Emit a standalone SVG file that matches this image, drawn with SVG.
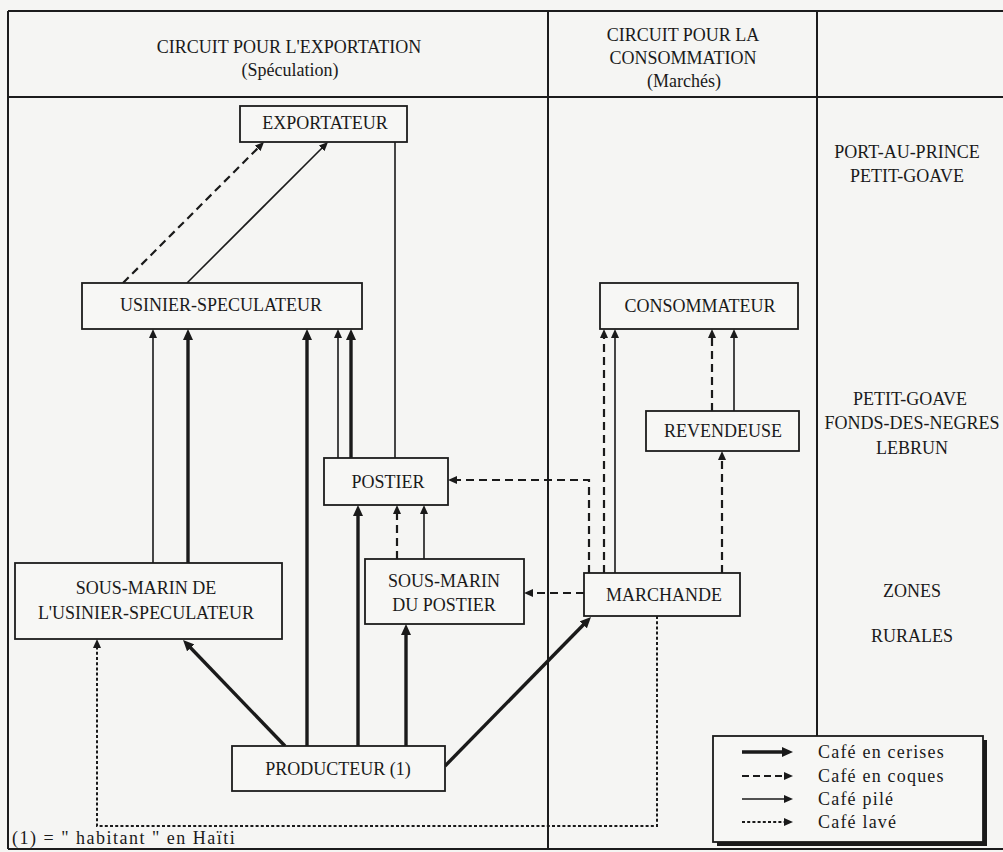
<svg xmlns="http://www.w3.org/2000/svg" width="1003" height="852" viewBox="0 0 1003 852">
  <style>
    .frame { fill: none; stroke: #1c1c1c; stroke-width: 2; }
    .box { fill: #f7f7f5; stroke: #1c1c1c; stroke-width: 1.8; }
    .lbl { font-family: "Liberation Serif", "Times New Roman", serif; font-size: 18px; fill: #1a1a1a; text-anchor: middle; }
    .hdr { font-family: "Liberation Serif", "Times New Roman", serif; font-size: 18px; fill: #1a1a1a; text-anchor: middle; }
    .place { font-family: "Liberation Serif", "Times New Roman", serif; font-size: 18px; fill: #1a1a1a; text-anchor: middle; }
    .leg { font-family: "Liberation Serif", "Times New Roman", serif; font-size: 18px; fill: #1a1a1a; letter-spacing: 1.2px; }
    .note { font-family: "Liberation Serif", "Times New Roman", serif; font-size: 18px; fill: #1a1a1a; letter-spacing: 1.5px; }
    .cerises { fill: none; stroke: #1a1a1a; stroke-width: 3.4; marker-end: url(#headThick); }
    .pile { fill: none; stroke: #1a1a1a; stroke-width: 1.6; marker-end: url(#headThin); }
    .coques { fill: none; stroke: #1a1a1a; stroke-width: 2.2; stroke-dasharray: 8 5; marker-end: url(#headThin); }
    .lave { fill: none; stroke: #1a1a1a; stroke-width: 2; stroke-dasharray: 3 2.2; marker-end: url(#headThin); }
  </style>
  <defs>
    <marker id="headThick" markerUnits="userSpaceOnUse" markerWidth="12" markerHeight="10" refX="4" refY="5" orient="auto">
      <path d="M0,0 L11,5 L0,10 z" fill="#1a1a1a"/>
    </marker>
    <marker id="headThin" markerUnits="userSpaceOnUse" markerWidth="10" markerHeight="8" refX="3" refY="4" orient="auto">
      <path d="M0,0 L9,4 L0,8 z" fill="#1a1a1a"/>
    </marker>
  </defs>

  <rect x="0" y="0" width="1003" height="852" fill="#f5f5f3"/>

  <!-- table frame and column rules -->
  <g id="frame">
    <path class="frame" d="M8,11 H1003 M8,11 V849 M8,849 H1003 M8,97 H1003 M548,11 V849 M817,11 V736"/>
  </g>

  <!-- column headings -->
  <g id="headings">
    <text class="hdr" x="289" y="53">CIRCUIT POUR L'EXPORTATION</text>
    <text class="hdr" x="290" y="76">(Spéculation)</text>
    <text class="hdr" x="683" y="41">CIRCUIT POUR LA</text>
    <text class="hdr" x="683" y="64">CONSOMMATION</text>
    <text class="hdr" x="684" y="87">(Marchés)</text>
  </g>

  <!-- place names -->
  <g id="places">
    <text class="place" x="907" y="158">PORT-AU-PRINCE</text>
    <text class="place" x="907" y="182">PETIT-GOAVE</text>
    <text class="place" x="910" y="405">PETIT-GOAVE</text>
    <text class="place" x="912" y="429">FONDS-DES-NEGRES</text>
    <text class="place" x="912" y="454">LEBRUN</text>
    <text class="place" x="912" y="597">ZONES</text>
    <text class="place" x="912" y="642">RURALES</text>
  </g>

  <!-- connectors -->
  <g id="connectors">
    <!-- café en cerises -->
    <path class="cerises" d="M188,563 V336"/>
    <path class="cerises" d="M307,746 V336"/>
    <path class="cerises" d="M351,458 V336"/>
    <path class="cerises" d="M358,746 V512"/>
    <path class="cerises" d="M406,746 V631"/>
    <path class="cerises" d="M285,746 L187.9,645"/>
    <path class="cerises" d="M445,766 L586.1,622"/>
    <!-- café pilé -->
    <path class="pile" d="M153,563 V335"/>
    <path class="pile" d="M338,458 V335"/>
    <path class="pile" d="M424,559 V511"/>
    <path class="pile" d="M187,283 L323.8,146.2"/>
    <path class="pile" d="M395,458 V142" style="marker-end:none"/>
    <path class="pile" d="M615,573 V335"/>
    <path class="pile" d="M734,411 V335"/>
    <!-- café en coques -->
    <path class="coques" d="M123,283 L259.8,146.2"/>
    <path class="coques" d="M397,559 V511"/>
    <path class="coques" d="M589,573 V480 H454"/>
    <path class="coques" d="M584,593 H530"/>
    <path class="coques" d="M604,573 V335"/>
    <path class="coques" d="M722,573 V457"/>
    <path class="coques" d="M712,411 V335"/>
    <!-- café lavé -->
    <path class="lave" d="M657,616 V826 H97 V645"/>
  </g>

  <!-- nodes -->
  <g id="exportateur">
    <rect class="box" x="240" y="106" width="167" height="36"/>
    <text class="lbl" x="325" y="129">EXPORTATEUR</text>
  </g>
  <g id="usinier-speculateur">
    <rect class="box" x="82" y="283" width="280" height="46"/>
    <text class="lbl" x="221" y="311">USINIER-SPECULATEUR</text>
  </g>
  <g id="sous-marin-usinier">
    <rect class="box" x="15" y="563" width="267" height="76"/>
    <text class="lbl" x="146" y="594">SOUS-MARIN DE</text>
    <text class="lbl" x="146" y="619">L'USINIER-SPECULATEUR</text>
  </g>
  <g id="postier">
    <rect class="box" x="324" y="458" width="124" height="47"/>
    <text class="lbl" x="388" y="488">POSTIER</text>
  </g>
  <g id="sous-marin-postier">
    <rect class="box" x="365" y="559" width="159" height="65"/>
    <text class="lbl" x="444" y="587">SOUS-MARIN</text>
    <text class="lbl" x="444" y="611">DU POSTIER</text>
  </g>
  <g id="producteur">
    <rect class="box" x="232" y="746" width="213" height="45"/>
    <text class="lbl" x="338" y="775">PRODUCTEUR (1)</text>
  </g>
  <g id="consommateur">
    <rect class="box" x="600" y="283" width="198" height="46"/>
    <text class="lbl" x="700" y="312">CONSOMMATEUR</text>
  </g>
  <g id="revendeuse">
    <rect class="box" x="646" y="411" width="153" height="40"/>
    <text class="lbl" x="723" y="437">REVENDEUSE</text>
  </g>
  <g id="marchande">
    <rect class="box" x="584" y="573" width="156" height="43"/>
    <text class="lbl" x="664" y="601">MARCHANDE</text>
  </g>

  <!-- legend -->
  <g id="legend">
    <rect x="717" y="740" width="270" height="106" fill="#1a1a1a"/>
    <rect x="713" y="736" width="270" height="106" fill="#f7f7f5" stroke="#1a1a1a" stroke-width="1.8"/>
    <path class="cerises" d="M742,752 H786"/>
    <path class="coques" d="M742,776 H787" style="stroke-dasharray:7 4"/>
    <path class="pile" d="M742,799 H787"/>
    <path class="lave" d="M742,822 H787"/>
    <text class="leg" x="818" y="758">Café en cerises</text>
    <text class="leg" x="818" y="782">Café en coques</text>
    <text class="leg" x="818" y="805">Café pilé</text>
    <text class="leg" x="818" y="828">Café lavé</text>
  </g>

  <!-- footnote -->
  <text class="note" x="12" y="844">(1) = " habitant " en Haïti</text>
</svg>
